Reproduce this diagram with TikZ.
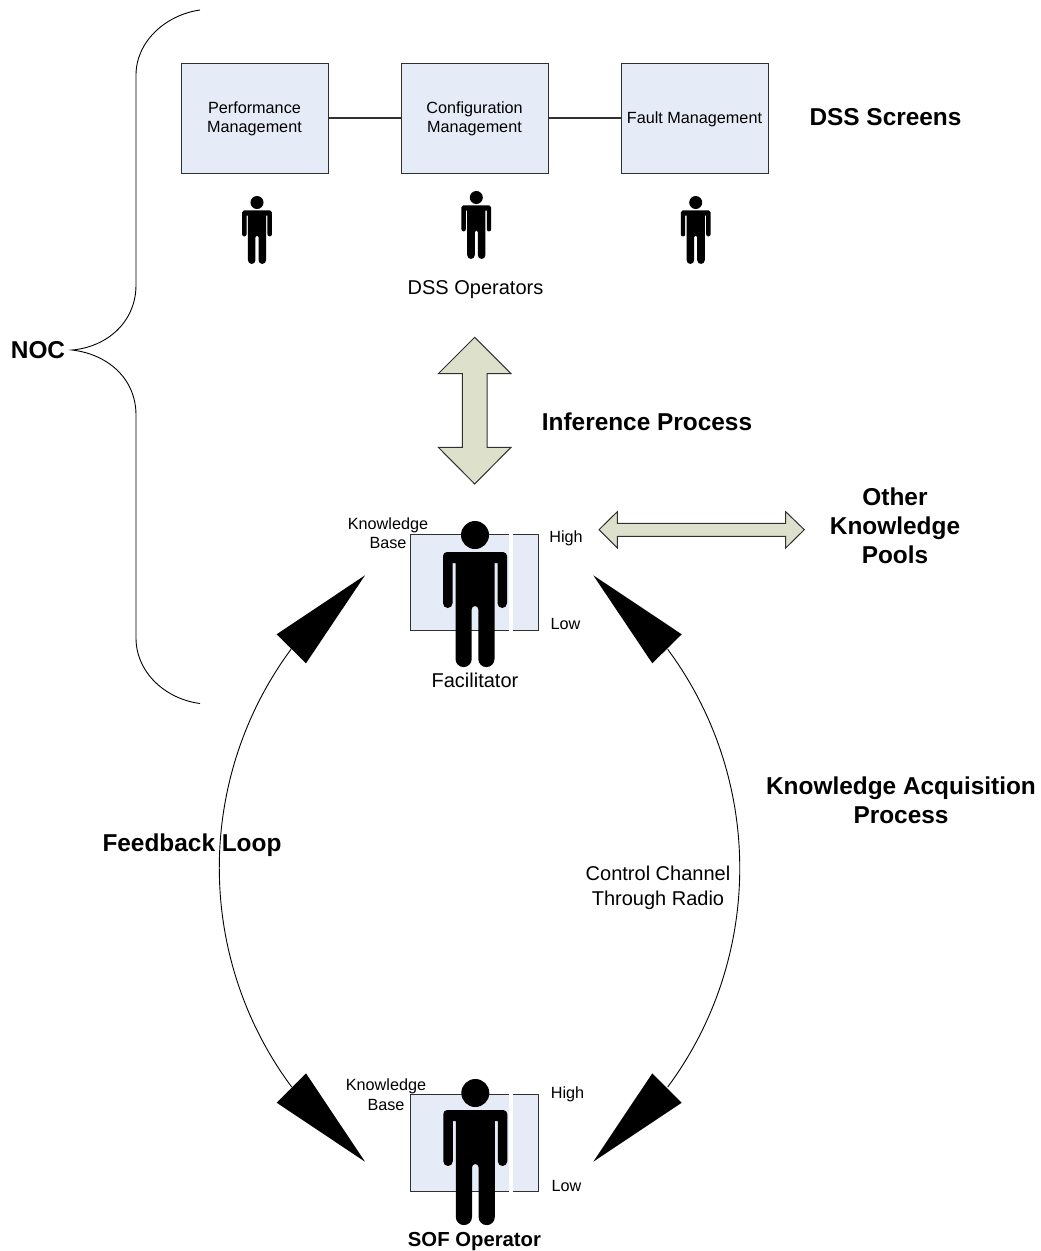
\documentclass[tikz,border=0pt]{standalone}
\usepackage{fontspec}
\setmainfont{Liberation Sans}
\definecolor{boxfill}{HTML}{E6ECF7}
\definecolor{arrowfill}{HTML}{DDE1CB}
\definecolor{edge}{HTML}{303030}
\newcommand{\fsmall}{\fontsize{16.2}{19.5}\selectfont}
\newcommand{\fmid}{\fontsize{20}{25}\selectfont}
\newcommand{\fbold}{\fontsize{24.4}{29}\selectfont\bfseries}
\tikzset{
  x=1pt,y=1pt,
  screenbox/.style={draw=edge,line width=1pt,fill=boxfill,minimum width=147pt,minimum height=110pt,inner sep=0pt},
  kbbox/.style={draw=edge,line width=1pt,fill=boxfill,minimum width=128.5pt,minimum height=96.5pt,inner sep=0pt},
  gap/.style={fill=white,draw=none},
  blockarrow/.style={draw=edge,line width=1pt,fill=arrowfill,line join=miter},
  link/.style={draw=edge,line width=1.3pt},
  thin curve/.style={draw=black,line width=0.9pt},
  wedge/.style={fill=black,draw=none},
  lbl/.style={inner sep=0pt,align=center,font=\fsmall},
  midlbl/.style={inner sep=0pt,align=center,font=\fmid},
  boldlbl/.style={inner sep=0pt,align=center,font=\fbold},
  pics/person/.style={code={
    \fill (0,-14) circle[radius=14];
    \fill (-28,-31) -- (28,-31) arc[start angle=90,end angle=0,radius=4]
      -- (32,-82.25) arc[start angle=0,end angle=-180,radius=4.75]
      -- (22.5,-42) -- (19.5,-42) -- (19.5,-138)
      arc[start angle=0,end angle=-180,radius=8.1]
      -- (3.3,-88.3) arc[start angle=0,end angle=180,radius=3.3]
      -- (-3.3,-138) arc[start angle=0,end angle=-180,radius=8.1]
      -- (-19.5,-42) -- (-22.5,-42) -- (-22.5,-82.25)
      arc[start angle=0,end angle=-180,radius=4.75]
      -- (-32,-35) arc[start angle=180,end angle=90,radius=4] -- cycle;
  }}
}
\begin{document}
\begin{tikzpicture}
\useasboundingbox (0,0) rectangle (1041,-1251);

% DSS screens
\node[screenbox] (perf) at (254.5,-118) {};
\node[screenbox] (conf) at (474.5,-118) {};
\node[screenbox] (fault) at (694.5,-118) {};
\node[lbl] (perft) at (254.5,-119) {Performance\\Management};
\node[lbl] (conft) at (474.5,-119) {Configuration\\Management};
\node[lbl] (faultt) at (694.5,-119) {Fault Management};
\draw[link] (perf) -- (conf);
\draw[link] (conf) -- (fault);
\node[boldlbl] (dssscreens) at (885.5,-117) {DSS Screens};

\pic[scale=0.465] at (257,-196) {person};
\pic[scale=0.465] at (476.3,-191) {person};
\pic[scale=0.465] at (695.7,-196) {person};
\node[midlbl] (dssops) at (475.5,-290) {DSS Operators};

% NOC brace
\coordinate (bt) at (200,-10);
\coordinate (bm) at (72,-350);
\coordinate (bb) at (200,-703.5);
\draw[thin curve] (bt) .. controls (165,-15) and (136,-42) .. (136,-75)
  -- (136,-285) .. controls (136,-322) and (107,-347) .. (bm)
  .. controls (107,-354) and (136,-378) .. (136,-415)
  -- (136,-638) .. controls (136,-672) and (165,-699) .. (bb);
\node[boldlbl] (noc) at (38,-350) {NOC};

% Block arrows
\draw[blockarrow] (474.7,-337.3) coordinate (vtop) -- (511,-373.7) -- (487,-373.7) -- (487,-447.3) -- (511,-447.3)
  -- (474.7,-484) -- (438.3,-447.3) -- (462.3,-447.3) -- (462.3,-373.7) -- (438.3,-373.7) -- cycle;
\node[boldlbl] (infer) at (647,-422) {Inference Process};

\draw[blockarrow] (599,-529.7) -- (617.3,-511.7) -- (617.3,-523.3) -- (785.7,-523.3) -- (785.7,-511.7)
  -- (804.3,-529.7) -- (785.7,-548) -- (785.7,-536.3) -- (617.3,-536.3) -- (617.3,-548) -- cycle;
\node[boldlbl] (pools) at (895,-526) {Other\\Knowledge\\Pools};

% Facilitator
\node[kbbox] (kbf) at (474.7,-582.3) {};
\fill[gap] (509,-532.5) rectangle (512.8,-632);
\pic at (475,-521) {person};
\node[lbl] (kbfl) at (388,-533) {Knowledge\\Base};
\node[lbl] (highf) at (566,-538.5) {High};
\node[lbl] (lowf) at (565.5,-623.5) {Low};
\node[midlbl] (facil) at (475,-680) {Facilitator};

% SOF operator
\node[kbbox] (kbs) at (474.7,-1143.2) {};
\fill[gap] (509,-1093.5) rectangle (512.8,-1193);
\pic at (475.3,-1079) {person};
\node[lbl] (kbsl) at (386,-1094.5) {Knowledge\\Base};
\node[lbl] (highs) at (567.5,-1094) {High};
\node[lbl] (lows) at (566.5,-1186) {Low};
\node[inner sep=0pt,font=\fontsize{20.3}{24}\selectfont\bfseries] (sof) at (474.5,-1242) {SOF Operator};

% Wedges
\fill[wedge] (593.3,-575.3) -- (681.7,-634.3) -- (652.3,-663.3) -- cycle;
\fill[wedge] (365,-575.3) -- (276.6,-634.3) -- (306,-663.3) -- cycle;
\fill[wedge] (593.3,-1161.7) -- (652.3,-1073.3) -- (681.7,-1102.7) -- cycle;
\fill[wedge] (365,-1161.7) -- (306,-1073.3) -- (276.7,-1102.7) -- cycle;

% Loops
\coordinate (rt) at (667.7,-649.3);
\coordinate (rb) at (667.7,-1087);
\coordinate (lt) at (291,-649.3);
\coordinate (lb) at (291.7,-1087);
\draw[thin curve] (rt) to[bend left=36.56,looseness=0.945] (rb);
\draw[thin curve] (lt) to[bend right=36.56,looseness=0.945] (lb);

\node[boldlbl] (acq) at (901,-800) {Knowledge Acquisition\\Process};
\node[boldlbl] (fb) at (192,-845.5) {Feedback Loop};
\node[midlbl] (ctrl) at (658,-887.5) {Control Channel\\Through Radio};
\end{tikzpicture}
\end{document}
